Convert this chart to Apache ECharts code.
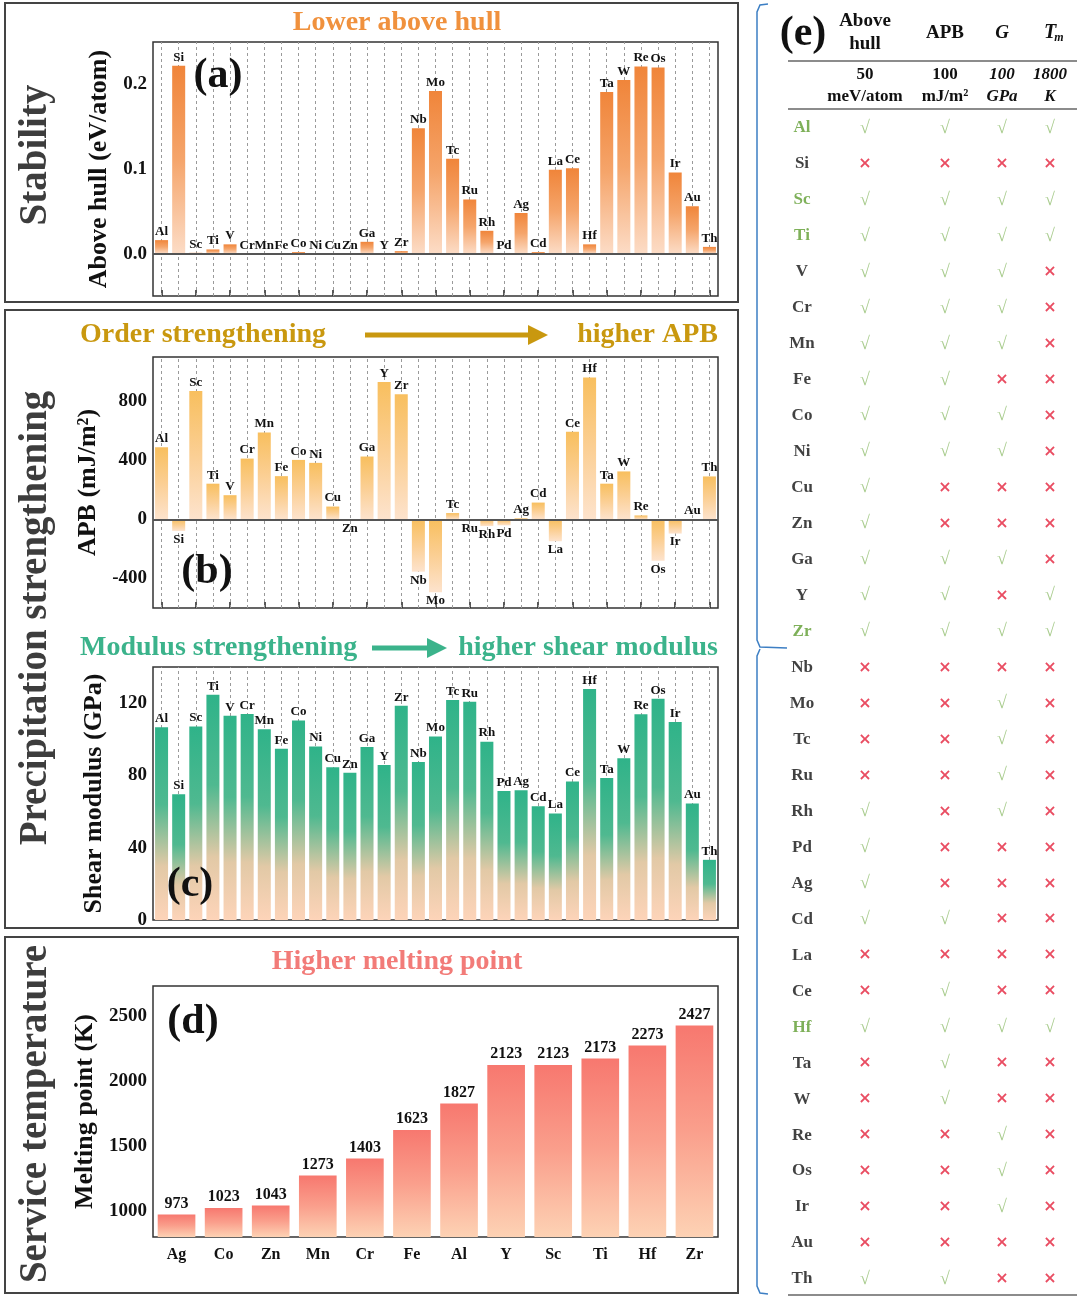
<!DOCTYPE html>
<html>
<head>
<meta charset="utf-8">
<script src="https://cdn.jsdelivr.net/npm/echarts@6/dist/echarts.min.js"></script>
<style>
html,body{margin:0;padding:0;background:#fff;}
#main{width:1080px;height:1299px;}
</style>
</head>
<body>
<div id="main"></div>
<script>
// elements used in panels (a)(b)(c) and table (e)
var elements = ['Al','Si','Sc','Ti','V','Cr','Mn','Fe','Co','Ni','Cu','Zn','Ga','Y','Zr','Nb','Mo','Tc','Ru','Rh','Pd','Ag','Cd','La','Ce','Hf','Ta','W','Re','Os','Ir','Au','Th'];
// (a) above hull, eV/atom
var aboveHull = [0.016,0.222,0.001,0.005,0.011,0,0,0,0.002,0,0,0,0.014,0,0.003,0.148,0.192,0.112,0.064,0.027,0,0.048,0.002,0.099,0.101,0.011,0.191,0.205,0.221,0.220,0.096,0.056,0.008];
// (b) APB, mJ/m2
var apb = [488,-78,869,242,164,412,589,293,403,383,87,-3,426,930,847,-354,-493,43,-5,-45,-40,8,114,-148,594,961,242,325,27,-280,-96,3,291];
// (c) shear modulus, GPa
var shearModulus = [106.6,69.6,107.1,124.6,113,114,105.5,94.8,110.4,96,84.5,81.5,95.7,85.8,118.5,87.4,101.6,121.7,120.8,98.7,71.4,71.8,63,58.9,76.6,127.8,78.6,89.5,113.8,122.4,109.5,64.4,33.3];
// (d) melting point, K
var meltElements = ['Ag','Co','Zn','Mn','Cr','Fe','Al','Y','Sc','Ti','Hf','Zr'];
var meltPoint = [973,1023,1043,1273,1403,1623,1827,2123,2123,2173,2273,2427];
// (e) criteria table, 1 = pass, 0 = fail
var hullPass = [1,0,1,1,1,1,1,1,1,1,1,1,1,1,1,0,0,0,0,1,1,1,1,0,0,1,0,0,0,0,0,0,1];
var apbPass  = [1,0,1,1,1,1,1,1,1,1,0,0,1,1,1,0,0,0,0,0,0,0,1,0,1,1,1,1,0,0,0,0,1];
var gPass    = [1,0,1,1,1,1,1,0,1,1,0,0,1,0,1,0,1,1,1,1,0,0,0,0,0,1,0,0,1,1,1,0,0];
var tmPass   = [1,0,1,1,0,0,0,0,0,0,0,0,0,1,1,0,0,0,0,0,0,0,0,0,0,1,0,0,0,0,0,0,0];
// tick labels
var hullTicks = [0, 0.1, 0.2];
var apbTicks = [-400, 0, 400, 800];
var gTicks = [0, 40, 80, 120];
var meltTicks = [1000, 1500, 2000, 2500];

var SERIF = '"Liberation Serif", "Times New Roman", serif';

function grad(stops){
	return new echarts.graphic.LinearGradient(0, 0, 0, 1, stops.map(function(s){
		return {offset: s[0], color: s[1]};
	}));
}

//category axis at the bottom of a boxed grid, ticks only
function catAxis(idx, data, showLabel){
	return {
		type: 'category', gridIndex: idx, data: data,
		axisLine: {show: false, onZero: false},
		axisTick: {show: true, inside: true, alignWithLabel: true, length: 6, lineStyle: {color: '#222', width: 1.5}},
		axisLabel: {show: showLabel, margin: 10, fontFamily: SERIF, fontWeight: 'bold', fontSize: 16, color: '#111'},
		splitLine: {show: false}
	};
}

function valAxis(idx, min, max, ticks, name, gap, fmt){
	return {
		type: 'value', gridIndex: idx, min: min, max: max,
		axisLine: {show: false}, axisTick: {show: false}, splitLine: {show: false},
		axisLabel: {customValues: ticks, formatter: fmt || function(v){ return String(v); }, margin: 6, fontFamily: SERIF, fontWeight: 'bold', fontSize: 19, color: '#111'},
		name: name, nameLocation: 'middle', nameGap: gap,
		nameTextStyle: {fontFamily: SERIF, fontWeight: 'bold', fontSize: 26, color: '#111'}
	};
}

function guideLines(){
	return {
		silent: true, symbol: 'none', z: 1, animation: false,
		label: {show: false},
		lineStyle: {color: '#9a9a9a', type: [3, 3], width: 1},
		data: elements.map(function(e){ return {xAxis: e}; })
	};
}

function zeroLine(idx){
	return {
		type: 'line', xAxisIndex: idx, yAxisIndex: idx, data: [],
		markLine: {silent: true, symbol: 'none', animation: false, label: {show: false},
			lineStyle: {color: '#555', type: 'solid', width: 2}, data: [{yAxis: 0}]}
	};
}

function barLabel(){
	return {show: true, position: 'top', distance: 2, formatter: '{b}', fontFamily: SERIF, fontWeight: 'bold', fontSize: 13, color: '#111'};
}

var tableCols = [
	{x: 802, vals: null},
	{x: 865, vals: hullPass},
	{x: 945, vals: apbPass},
	{x: 1002, vals: gPass},
	{x: 1050, vals: tmPass}
];

var grids = [
	{left: 153, top: 42, width: 565, height: 254},
	{left: 153, top: 357, width: 565, height: 251},
	{left: 153, top: 667, width: 565, height: 253},
	{left: 153, top: 986, width: 565, height: 251}
].map(function(g){
	g.show = true; g.borderColor = '#333'; g.borderWidth = 1.5; g.backgroundColor = 'transparent';
	return g;
});
var xAxes = [catAxis(0, elements, false), catAxis(1, elements, false), catAxis(2, elements, false), catAxis(3, meltElements, true)];
var yAxes = [
	valAxis(0, -0.05, 0.25, hullTicks, 'Above hull (eV/atom)', 38, function(v){ return v.toFixed(1); }),
	valAxis(1, -600, 1100, apbTicks, 'APB (mJ/m\u00b2)', 45),
	valAxis(2, 0, 140, gTicks, 'Shear modulus (GPa)', 41),
	valAxis(3, 800, 2730, meltTicks, 'Melting point (K)', 49)
];

var series = [
	{
		type: 'bar', xAxisIndex: 0, yAxisIndex: 0, data: aboveHull, barCategoryGap: '24%', z: 2,
		itemStyle: {color: grad([[0, '#f0853a'], [0.5, '#f5a56b'], [1, '#fcdcc6']])},
		label: barLabel(), markLine: guideLines()
	},
	zeroLine(0),
	{
		type: 'bar', xAxisIndex: 1, yAxisIndex: 1, barCategoryGap: '24%', z: 2,
		data: apb.map(function(v){ return {value: v, label: {position: v < 0 ? 'bottom' : 'top'}}; }),
		itemStyle: {color: grad([[0, '#f8bf5e'], [0.5, '#fbcf94'], [1, '#fde3cd']])},
		label: barLabel(), markLine: guideLines()
	},
	zeroLine(1),
	{
		type: 'bar', xAxisIndex: 2, yAxisIndex: 2, data: shearModulus, barCategoryGap: '24%', z: 2,
		itemStyle: {color: grad([[0, '#2fb389'], [0.4, '#4fb990'], [0.72, '#e2c9a6'], [1, '#fdd4b9']])},
		label: barLabel(), markLine: guideLines()
	},
	{
		type: 'bar', xAxisIndex: 3, yAxisIndex: 3, data: meltPoint, barCategoryGap: '20%',
		itemStyle: {color: grad([[0, '#f7786f'], [0.5, '#fa9f8c'], [1, '#fdd2b4']])},
		label: {show: true, position: 'top', distance: 3, formatter: '{c}', fontFamily: SERIF, fontWeight: 'bold', fontSize: 16, color: '#111'}
	}
];

//table (e): one narrow grid per column, rows from the element category axis
tableCols.forEach(function(col, j){
	var gi = 4 + j;
	grids.push({left: col.x - 25, top: 110, width: 50, height: 1187, show: false});
	xAxes.push({type: 'category', gridIndex: gi, data: [''], show: false});
	yAxes.push({type: 'category', gridIndex: gi, data: elements, inverse: true, show: false});
	series.push({
		type: 'scatter', xAxisIndex: gi, yAxisIndex: gi, symbolSize: 1, silent: true,
		itemStyle: {color: 'rgba(0,0,0,0)'},
		data: elements.map(function(e, i){ return [0, i]; }),
		label: {
			show: true, position: 'inside',
			formatter: function(p){
				var i = p.dataIndex;
				if (!col.vals) {
					var all = hullPass[i] && apbPass[i] && gPass[i] && tmPass[i];
					return '{' + (all ? 'gn' : 'bk') + '|' + elements[i] + '}';
				}
				return col.vals[i] ? '{ok|\u221a}' : '{no|\u00d7}';
			},
			rich: {
				gn: {fontFamily: SERIF, fontWeight: 'bold', fontSize: 17, color: '#5e9c30'},
				bk: {fontFamily: SERIF, fontWeight: 'bold', fontSize: 17, color: '#111'},
				ok: {fontFamily: SERIF, fontSize: 18, color: '#93bf72'},
				no: {fontFamily: '"DejaVu Sans", sans-serif', fontWeight: 'bold', fontSize: 16, color: '#e3213b'}
			}
		}
	});
});

function txt(x, y, text, font, fill, align, rot){
	return {type: 'text', x: x, y: y, z: 100, rotation: rot || 0, silent: true,
		style: {text: text, font: font, fill: fill || '#111', textAlign: align || 'center', textVerticalAlign: 'middle'}};
}
function hline(x1, x2, y, color, w){
	return {type: 'line', silent: true, shape: {x1: x1, y1: y, x2: x2, y2: y}, style: {stroke: color, lineWidth: w}};
}
function arrow(x1, x2, y, color){
	return [
		{type: 'line', silent: true, shape: {x1: x1, y1: y, x2: x2 - 16, y2: y}, style: {stroke: color, lineWidth: 5}},
		{type: 'polygon', silent: true, shape: {points: [[x2 - 20, y - 10], [x2, y], [x2 - 20, y + 10]]}, style: {fill: color}}
	];
}

var B = function(s){ return 'bold ' + s + 'px ' + SERIF; };
var BI = function(s){ return 'italic bold ' + s + 'px ' + SERIF; };

var graphics = [
	{type: 'rect', silent: true, shape: {x: 5, y: 3, width: 733, height: 299}, style: {fill: 'none', stroke: '#444', lineWidth: 2}},
	{type: 'rect', silent: true, shape: {x: 5, y: 310, width: 733, height: 618}, style: {fill: 'none', stroke: '#444', lineWidth: 2}},
	{type: 'rect', silent: true, shape: {x: 5, y: 937, width: 733, height: 356}, style: {fill: 'none', stroke: '#444', lineWidth: 2}},
	txt(36, 155, 'Stability', B(39), '#3d3d3d', 'center', Math.PI / 2),
	txt(36, 618, 'Precipitation strengthening', B(39), '#3d3d3d', 'center', Math.PI / 2),
	txt(36, 1114, 'Service temperature', B(39), '#3d3d3d', 'center', Math.PI / 2),
	txt(397, 23, 'Lower above hull', B(28), '#f0913d'),
	txt(80, 335, 'Order strengthening', B(28), '#c9980f', 'left'),
	txt(718, 335, 'higher APB', B(28), '#c9980f', 'right'),
	txt(80, 648, 'Modulus strengthening', B(28), '#3bb38b', 'left'),
	txt(718, 648, 'higher shear modulus', B(28), '#3bb38b', 'right'),
	txt(397, 962, 'Higher melting point', B(28), '#f27b78'),
	txt(218, 76, '(a)', B(42)),
	txt(207, 572, '(b)', B(42)),
	txt(190, 885, '(c)', B(42)),
	txt(193, 1022, '(d)', B(42)),
	//table header
	txt(803, 34, '(e)', B(42)),
	txt(865, 21, 'Above', B(19)),
	txt(865, 44, 'hull', B(19)),
	txt(945, 33, 'APB', B(19)),
	txt(1002, 33, 'G', BI(19)),
	txt(1050, 33, 'T', BI(20)),
	txt(1059, 38, 'm', BI(12)),
	hline(788, 1077, 61, '#666', 1.5),
	txt(865, 75, '50', B(17)),
	txt(865, 97, 'meV/atom', B(17)),
	txt(945, 75, '100', B(17)),
	txt(945, 97, 'mJ/m\u00b2', B(17)),
	txt(1002, 75, '100', BI(17)),
	txt(1002, 97, 'GPa', BI(17)),
	txt(1050, 75, '1800', BI(17)),
	txt(1050, 97, 'K', BI(17)),
	hline(788, 1077, 109, '#666', 1.5),
	hline(788, 1077, 1295, '#666', 1.5),
	//blue bracket
	{type: 'polyline', silent: true, shape: {points: [[768, 4], [760, 5], [757, 12], [757, 640], [760, 647], [787, 648]]}, style: {stroke: '#3d7fc4', lineWidth: 1.5, fill: 'none'}},
	{type: 'polyline', silent: true, shape: {points: [[760, 649], [757, 656], [757, 1286], [760, 1293], [768, 1294]]}, style: {stroke: '#3d7fc4', lineWidth: 1.5, fill: 'none'}}
];
graphics = graphics.concat(arrow(365, 548, 335, '#c9980f'), arrow(372, 447, 648, '#3bb38b'));

var chart = echarts.init(document.getElementById('main'));
chart.setOption({
	animation: false,
	backgroundColor: '#fff',
	grid: grids,
	xAxis: xAxes,
	yAxis: yAxes,
	series: series,
	graphic: graphics
});
</script>
</body>
</html>
